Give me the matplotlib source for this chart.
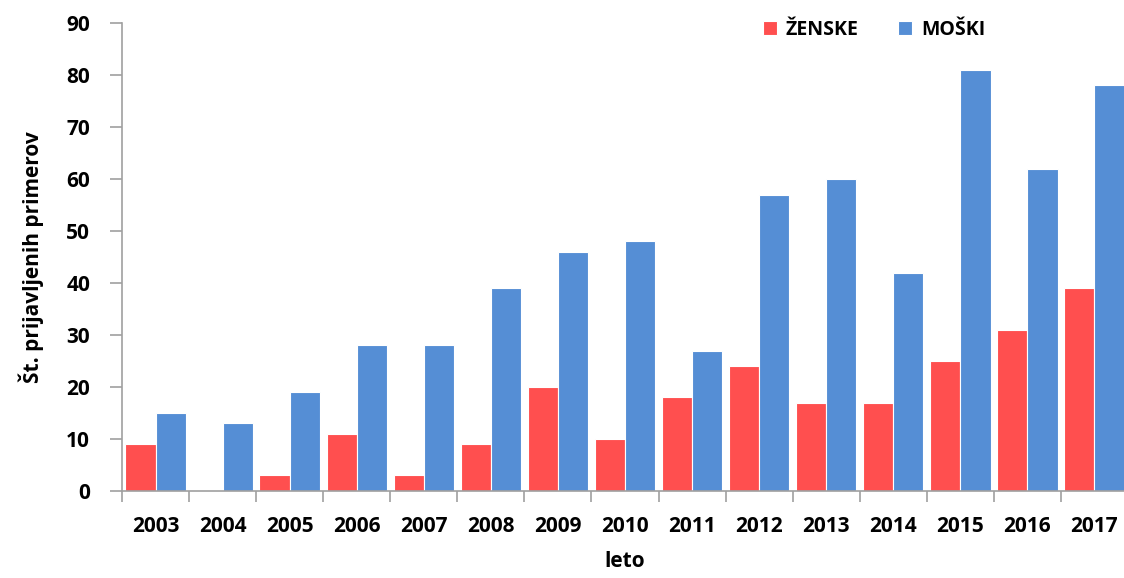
import numpy as np
import matplotlib
matplotlib.use('Agg')
from matplotlib import pyplot as plt

# Podatki
leta = ['2003', '2004', '2005', '2006', '2007', '2008', '2009', '2010',
        '2011', '2012', '2013', '2014', '2015', '2016', '2017']
zenske = [9, 0, 3, 11, 3, 9, 20, 10, 18, 24, 17, 17, 25, 31, 39]
moski = [15, 13, 19, 28, 28, 39, 46, 48, 27, 57, 60, 42, 81, 62, 78]

plt.rcParams['font.family'] = ['Open Sans', 'DejaVu Sans']
plt.rcParams['font.weight'] = 'bold'

fig = plt.figure(figsize=(11.24, 5.78), dpi=100)
ax = fig.add_axes([122 / 1124, 87 / 578, 1006 / 1124, 468 / 578])

x = np.arange(len(leta))
w = 0.45
ax.bar(x - w / 2, zenske, w, color='#FF4F4F', edgecolor='white', linewidth=0.8,
       label='ŽENSKE')
ax.bar(x + w / 2, moski, w, color='#558ED5', edgecolor='white', linewidth=0.8,
       label='MOŠKI')

ax.set_xlim(-0.5, len(leta) - 0.5)
ax.set_ylim(0, 90)
ax.set_yticks(range(0, 91, 10))
ax.set_xticks(x)
ax.set_xticklabels(leta)
ax.set_xticks(np.arange(-0.5, len(leta), 1), minor=True)
ax.tick_params(axis='x', which='major', length=0, pad=18, labelsize=15)
ax.tick_params(axis='x', which='minor', length=8, color='#A0A0A0', width=1.2)
ax.tick_params(axis='y', length=9, color='#A0A0A0', width=1.2, labelsize=15,
               pad=14)

for s in ['top', 'right']:
    ax.spines[s].set_visible(False)
for s in ['left', 'bottom']:
    ax.spines[s].set_color('#A0A0A0')
    ax.spines[s].set_linewidth(1.2)

ax.set_xlabel('leto', fontsize=15, fontweight='bold', labelpad=10)
ax.set_ylabel('Št. prijavljenih primerov', fontsize=15, fontweight='bold',
              labelpad=16)

ax.legend(loc='center left', bbox_to_anchor=(745 / 1124, 1 - 30 / 578),
          bbox_transform=fig.transFigure, ncol=2, frameon=False,
          fontsize=14, handlelength=0.75, handleheight=0.75,
          handletextpad=0.45, columnspacing=2.0)

plt.savefig('out.png', dpi=100)
